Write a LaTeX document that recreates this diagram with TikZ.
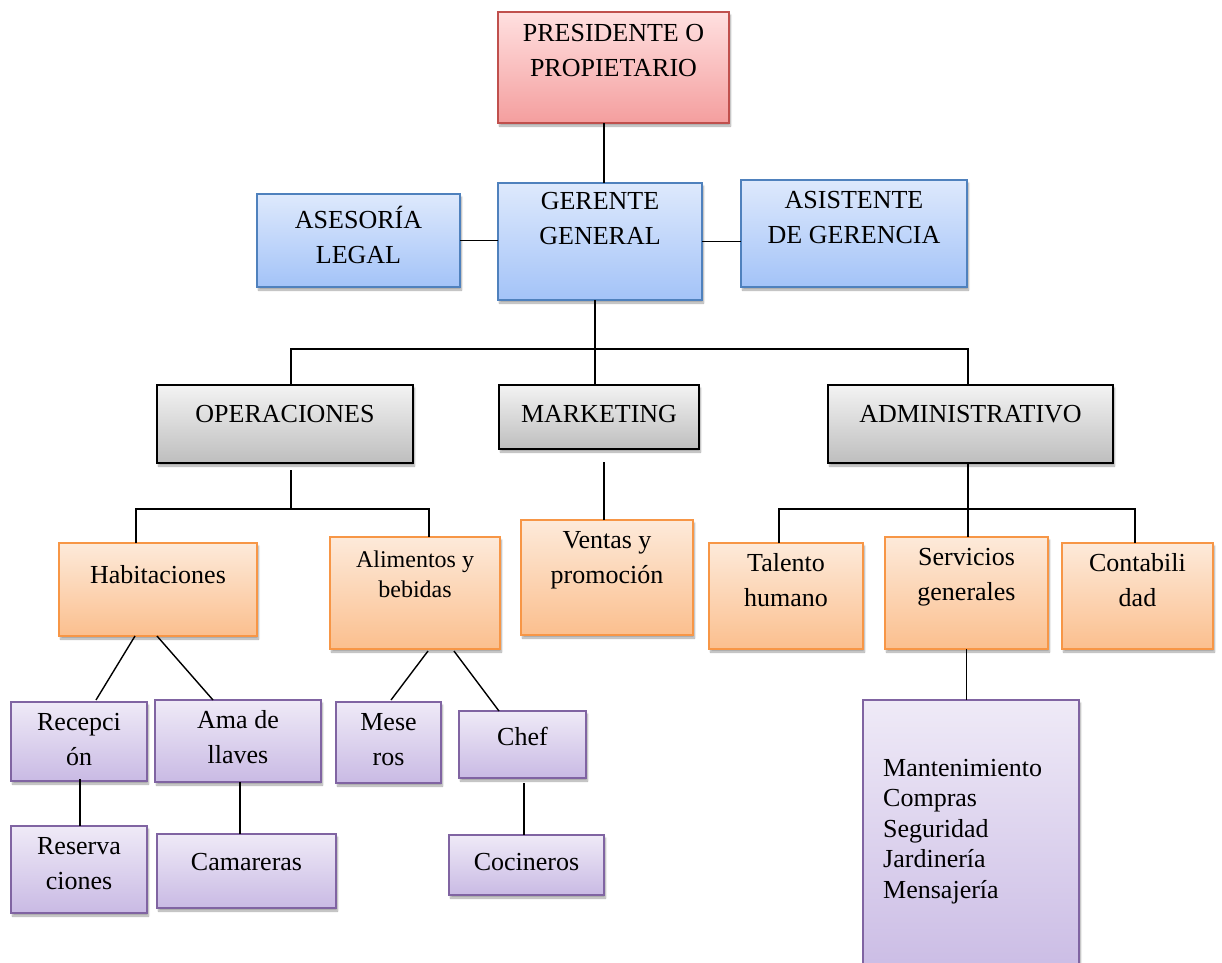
\documentclass[tikz,border=0pt]{standalone}
\usepackage{fontspec}
\setmainfont{Liberation Serif}
\usetikzlibrary{fit,calc,shadows.blur}
\definecolor{redline}{RGB}{192,80,77}
\definecolor{redtop}{RGB}{255,224,224}
\definecolor{redbot}{RGB}{244,158,158}
\definecolor{blueline}{RGB}{79,129,189}
\definecolor{bluetop}{RGB}{222,233,252}
\definecolor{bluebot}{RGB}{163,195,248}
\definecolor{graytop}{RGB}{243,243,243}
\definecolor{graybot}{RGB}{190,190,190}
\definecolor{orangeline}{RGB}{247,150,70}
\definecolor{orangetop}{RGB}{253,234,218}
\definecolor{orangebot}{RGB}{251,191,142}
\definecolor{purpleline}{RGB}{128,100,162}
\definecolor{purpletop}{RGB}{239,234,247}
\definecolor{purplebot}{RGB}{201,186,228}

\begin{document}
\begin{tikzpicture}[x=1pt, y=-1pt,
    box/.style={draw, line width=1.1pt, inner sep=0pt, outer sep=0pt,
      blur shadow={shadow xshift=1.5pt, shadow yshift=-3pt, shadow blur steps=5, shadow opacity=35}},
    redbox/.style={box, draw=redline, top color=redtop, bottom color=redbot},
    bluebox/.style={box, draw=blueline, top color=bluetop, bottom color=bluebot},
    graybox/.style={box, draw=black, top color=graytop, bottom color=graybot},
    orangebox/.style={box, draw=orangeline, top color=orangetop, bottom color=orangebot},
    purplebox/.style={box, draw=purpleline, top color=purpletop, bottom color=purplebot},
    lbl/.style={anchor=north, align=center, inner sep=0pt,
      font=\fontsize{26}{35}\selectfont, execute at begin node=\strut},
    small/.style={font=\fontsize{24}{30}\selectfont},
    link/.style={line width=1.4pt}]
    \useasboundingbox (0,0) rectangle (1222,962);

    % Direction
    \node[redbox, fit={(498,12) (729,123)}] (pres) {};
    \node[bluebox, fit={(257,194) (460,287)}] (ases) {};
    \node[bluebox, fit={(498,183) (702,300)}] (ger) {};
    \node[bluebox, fit={(741,180) (967,287)}] (asist) {};

    % Departments
    \node[graybox, fit={(157,385) (413,463)}] (ops) {};
    \node[graybox, fit={(499,385) (699,449)}] (mkt) {};
    \node[graybox, fit={(828,385) (1113,463)}] (adm) {};

    % Areas
    \node[orangebox, fit={(59,543) (257,636)}] (hab) {};
    \node[orangebox, fit={(330,537) (500,649)}] (alim) {};
    \node[orangebox, fit={(521,520) (693,635)}] (vent) {};
    \node[orangebox, fit={(709,543) (863,649)}] (tal) {};
    \node[orangebox, fit={(885,537) (1048,649)}] (serv) {};
    \node[orangebox, fit={(1062,543) (1213,649)}] (cont) {};

    % Staff
    \node[purplebox, fit={(11,702) (147,781)}] (recep) {};
    \node[purplebox, fit={(155,700) (321,782)}] (ama) {};
    \node[purplebox, fit={(336,702) (441,783)}] (mes) {};
    \node[purplebox, fit={(459,711) (586,778)}] (chef) {};
    \node[purplebox, fit={(11,826) (147,913)}] (reserv) {};
    \node[purplebox, fit={(157,834) (336,908)}] (cam) {};
    \node[purplebox, fit={(449,835) (604,895)}] (coc) {};
    \node[purplebox, fit={(863,700) (1079,985)}] (mant) {};

    % Texts
    \node[lbl] (pres-t) at (613.5,24.5) {PRESIDENTE O\\PROPIETARIO};
    \node[lbl] (ases-t) at (358.5,205.5) {ASESORÍA\\LEGAL};
    \node[lbl] (ger-t) at (600,192.5) {GERENTE\\GENERAL};
    \node[lbl] (asist-t) at (854,191.5) {ASISTENTE\\DE GERENCIA};
    \node[lbl] (ops-t) at (285,397.5) {OPERACIONES};
    \node[lbl] (mkt-t) at (599,397.5) {MARKETING};
    \node[lbl] (adm-t) at (970.5,397.5) {ADMINISTRATIVO};
    \node[lbl] (hab-t) at (158,558.5) {Habitaciones};
    \node[lbl, small] (alim-t) at (415,551) {Alimentos y\\bebidas};
    \node[lbl] (vent-t) at (607,531.5) {Ventas y\\promoción};
    \node[lbl] (tal-t) at (786,553.5) {Talento\\humano};
    \node[lbl] (serv-t) at (966.5,548.5) {Servicios\\generales};
    \node[lbl] (cont-t) at (1137.5,553.5) {Contabili\\dad};
    \node[lbl] (recep-t) at (79,713.5) {Recepci\\ón};
    \node[lbl] (ama-t) at (238,710.5) {Ama de\\llaves};
    \node[lbl] (mes-t) at (388.5,713.5) {Mese\\ros};
    \node[lbl] (chef-t) at (522.5,720.5) {Chef};
    \node[lbl] (reserv-t) at (79,837.5) {Reserva\\ciones};
    \node[lbl] (cam-t) at (246.5,845.5) {Camareras};
    \node[lbl] (coc-t) at (526.5,845.5) {Cocineros};
    \node[lbl, anchor=north west, align=left, font=\fontsize{26}{30.5}\selectfont] (mant-t) at (883,758.6)
      {Mantenimiento\\Compras\\Seguridad\\Jardinería\\Mensajería};

    % Connectors
    \coordinate (bus) at (595,349);
    \coordinate (opsbus) at (291,509);
    \coordinate (admbus) at (968,509);
    \draw[link] ($(pres.south)+(-9.5,0)$) -- ($(ger.north)+(4,0)$);
    \draw[link] (ases.east) -- (ases.east -| ger.west);
    \draw[link] (ger.east) -- (ger.east -| asist.west);
    \draw[link] (bus |- ger.south) -- (bus |- mkt.north);
    \draw[link] ($(ops.north)+(6,0)$) |- (bus) -| ($(adm.north)+(-2.5,0)$);
    \draw[link] ($(ops.south)+(6,7)$) -- (opsbus);
    \draw[link] ($(hab.north)+(-22,0)$) |- (opsbus) -| ($(alim.north)+(14,0)$);
    \draw[link] ($(vent.north)+(-3,0)$) -- ($(vent.north |- mkt.south)+(-3,13)$);
    \draw[link] (admbus |- adm.south) -- (admbus |- serv.north);
    \draw[link] ($(tal.north)+(-7,0)$) |- (admbus) -| ($(cont.north)+(-2.5,0)$);
    \draw[link] (serv.south) -- (serv.south |- mant.north);
    \draw[link] ($(hab.south)+(-23,0)$) -- ($(recep.north)+(17,-2)$);
    \draw[link] ($(hab.south)+(-1,0)$) -- ($(ama.north)+(-25,0)$);
    \draw[link] ($(alim.south)+(13,2)$) -- ($(mes.north)+(2.5,-2)$);
    \draw[link] ($(alim.south)+(39,2)$) -- ($(chef.north)+(-23.5,0)$);
    \draw[link] ($(recep.south)+(1,-2)$) -- ($(reserv.north)+(1,0)$);
    \draw[link] ($(ama.south)+(2,0)$) -- ($(ama.south |- cam.north)+(2,0)$);
    \draw[link] ($(chef.south)+(1.5,5)$) -- ($(chef.south |- coc.north)+(1.5,0)$);
\end{tikzpicture}
\end{document}
